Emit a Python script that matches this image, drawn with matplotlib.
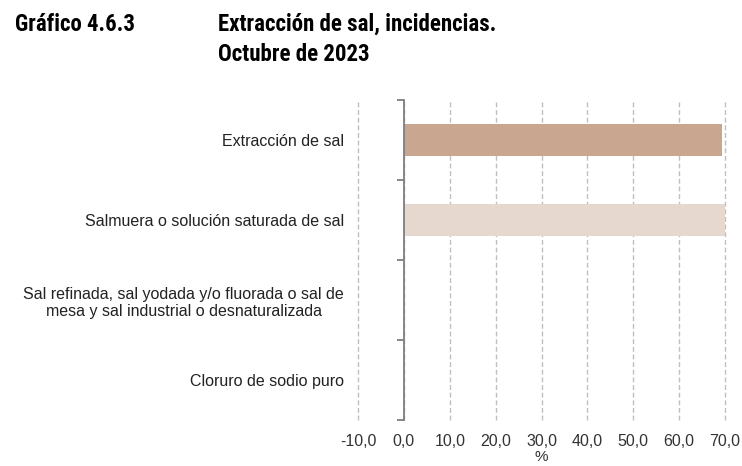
import matplotlib.pyplot as plt
from matplotlib.ticker import FixedLocator

categorias = [
    "Extracción de sal",
    "Salmuera o solución saturada de sal",
    "Sal refinada, sal yodada y/o fluorada o sal de\nmesa y sal industrial o desnaturalizada",
    "Cloruro de sodio puro",
]
valores = [69.4, 70.0, 0.0, 0.0]
colores = ["#C8A690", "#E6D8CF", "#E6D8CF", "#E6D8CF"]
xticks = [-10, 0, 10, 20, 30, 40, 50, 60, 70]

plt.rcParams["font.family"] = ["Liberation Sans", "DejaVu Sans"]

fig = plt.figure(figsize=(7.42, 4.66), dpi=100)
ax = fig.add_axes([358 / 742, 1 - 420 / 466, (725 - 358) / 742, 320 / 466])

pos = list(range(len(categorias)))
ax.barh(pos, valores, height=0.4, color=colores, zorder=3)
ax.set_ylim(len(categorias) - 0.5, -0.5)
ax.set_xlim(-10, 70)

ax.set_xticks(xticks)
ax.set_xticklabels([f"{v:.1f}".replace(".", ",") for v in xticks], fontsize=11.5, color="#333333")
ax.tick_params(axis="x", length=0, pad=10)
ax.grid(axis="x", color="#BFBFBF", linestyle=(0, (3.5, 2)), linewidth=1, zorder=0)
for g in ax.get_xgridlines():
    g.set_clip_on(False)
ax.set_xlabel("%", fontsize=11, color="#333333", labelpad=1)

for s in ["top", "right", "bottom"]:
    ax.spines[s].set_visible(False)
ax.spines["left"].set_position(("data", 0))
ax.spines["left"].set_color("#7F7F7F")
ax.spines["left"].set_linewidth(1.3)
ax.spines["left"].set_zorder(4)

ax.set_yticks(pos)
ax.set_yticklabels(categorias, fontsize=11.5, color="#222222")
for t in ax.get_yticklabels():
    t.set_multialignment("center")
ax.tick_params(axis="y", which="major", length=0, pad=43)
ax.yaxis.set_minor_locator(FixedLocator([-0.5, 0.5, 1.5, 2.5, 3.5]))
ax.tick_params(axis="y", which="minor", length=5, width=1.3, color="#7F7F7F")

titulo = dict(fontsize=16.5, fontweight="bold", family=["Roboto Condensed", "Roboto", "DejaVu Sans"],
              fontstretch="condensed", va="baseline")
fig.text(15 / 742, 1 - 31 / 466, "Gráfico 4.6.3", **titulo)
fig.text(218 / 742, 1 - 31 / 466, "Extracción de sal, incidencias.", **titulo)
fig.text(218 / 742, 1 - 61 / 466, "Octubre de 2023", **titulo)

fig.savefig("out.png", dpi=100)
